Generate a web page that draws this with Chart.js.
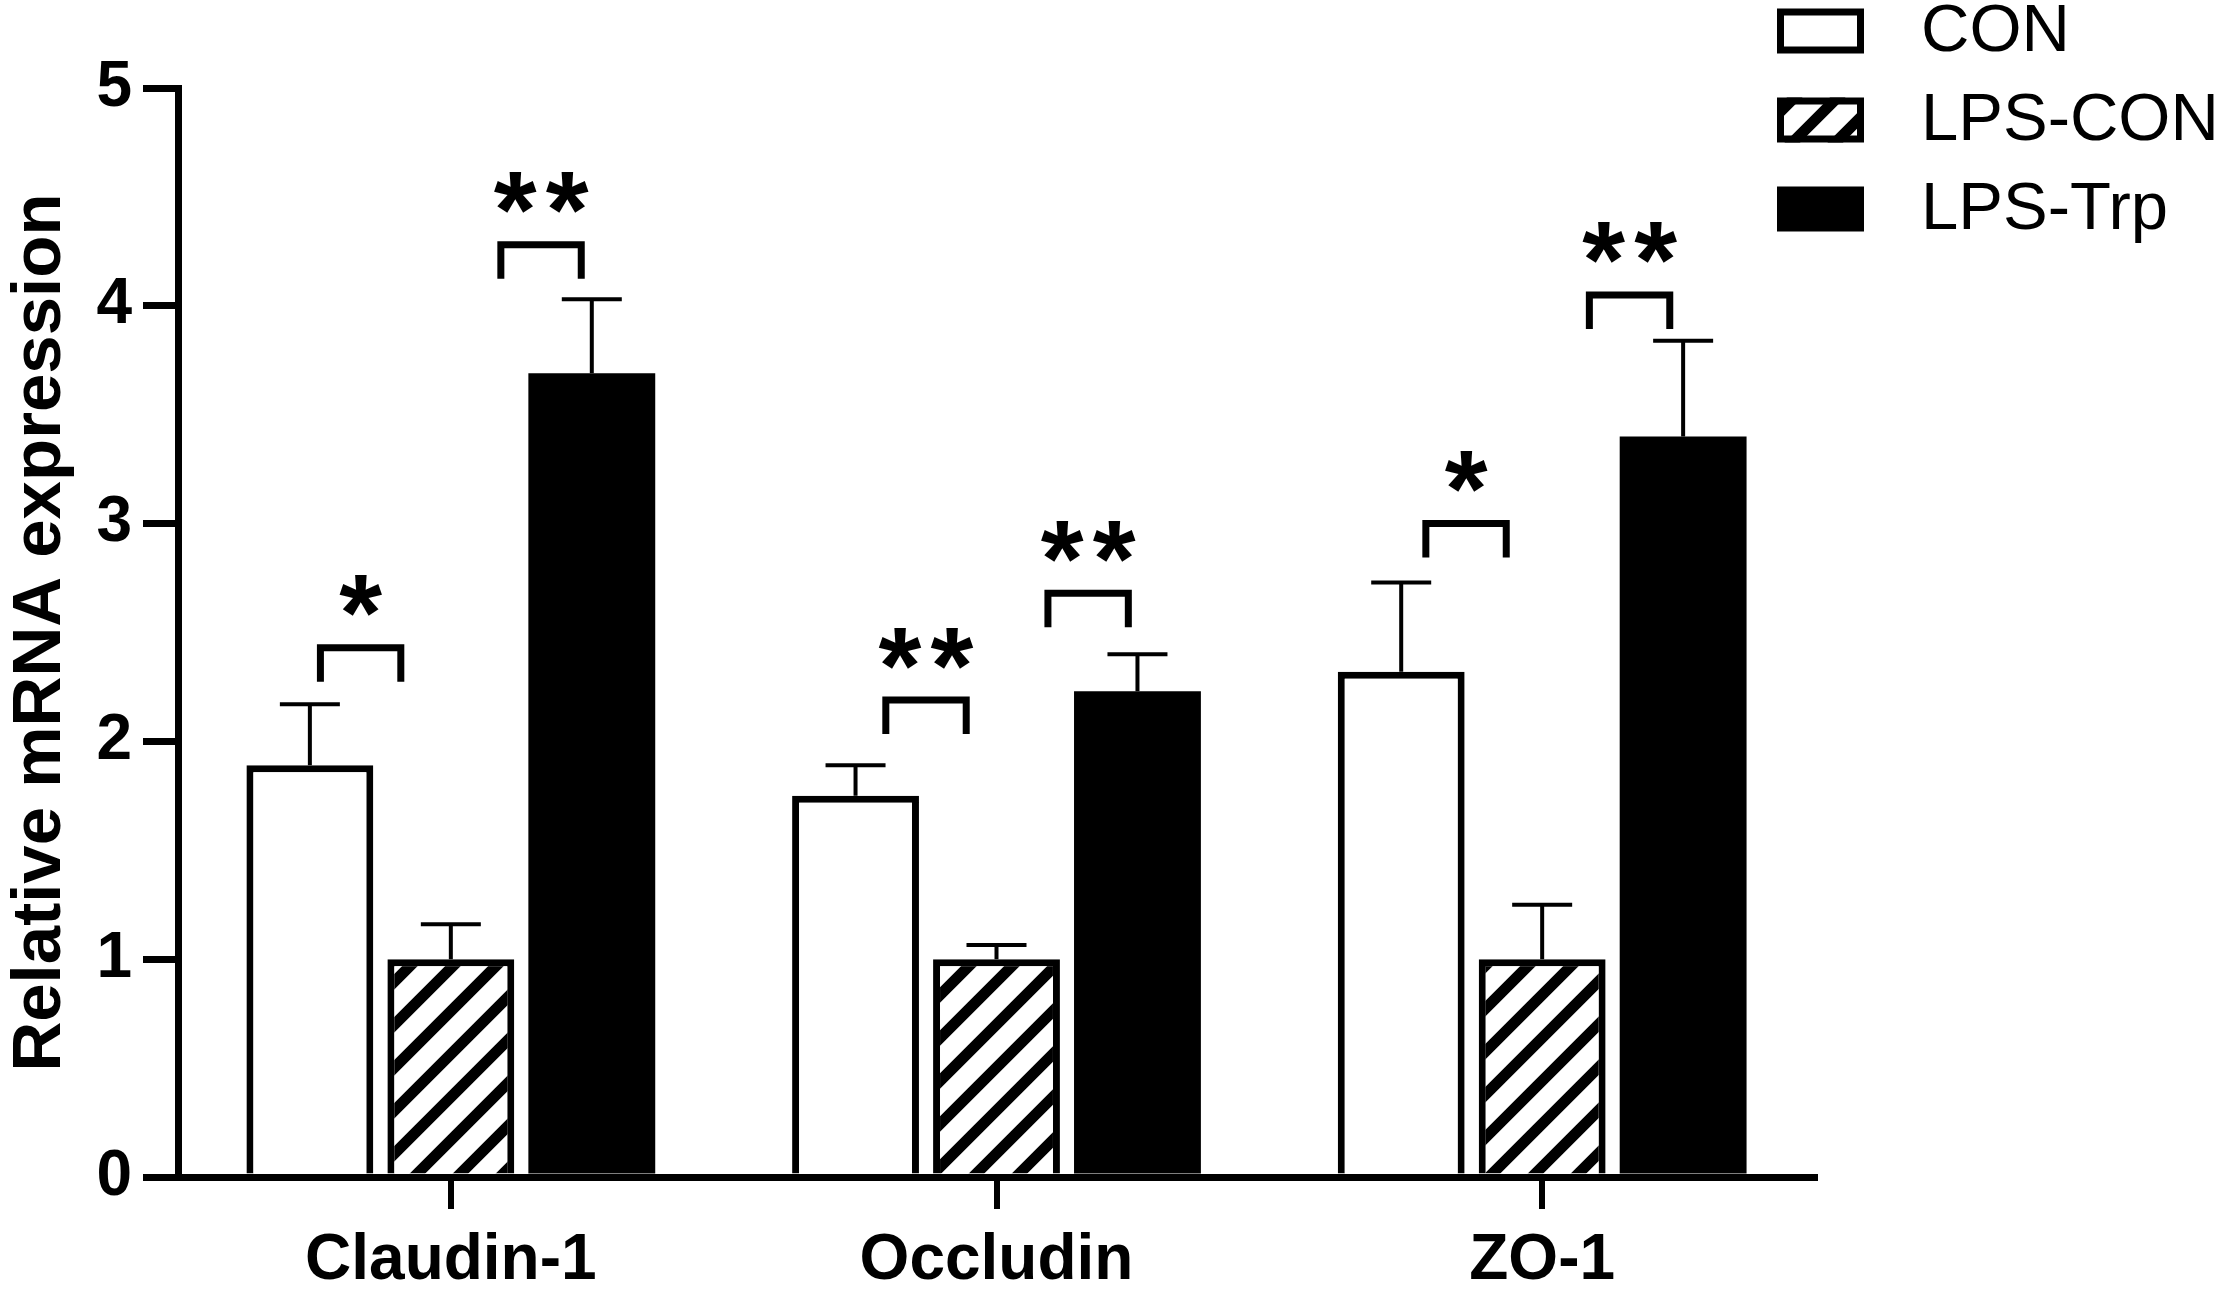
<!DOCTYPE html>
<html><head><meta charset="utf-8">
<script src="https://cdn.jsdelivr.net/npm/chart.js@4.4.1/dist/chart.umd.min.js"></script>
<style>html,body{margin:0;padding:0;background:#fff;overflow:hidden}#wrap{width:2228px;height:1290px}</style>
</head><body><div id="wrap"><canvas id="c" width="2228" height="1290"></canvas></div>
<script>
// ---- data ----
const categories = ['Claudin-1', 'Occludin', 'ZO-1'];
const seriesNames = ['CON', 'LPS-CON', 'LPS-Trp'];
const conValues = [1.89, 1.75, 2.32];
const lpsConValues = [1.00, 1.00, 1.00];
const lpsTrpValues = [3.69, 2.23, 3.40];
const conErr = [0.28, 0.14, 0.41];
const lpsConErr = [0.16, 0.065, 0.25];
const lpsTrpErr = [0.34, 0.17, 0.44];
const yTicks = [0, 1, 2, 3, 4, 5];
const yTitle = 'Relative mRNA expression';
// significance brackets
const sigCategory = [0, 0, 1, 1, 2, 2];
const sigFrom = [0, 1, 0, 1, 0, 1];
const sigTo = [1, 2, 1, 2, 1, 2];
const sigLevel = [2.43, 4.28, 2.19, 2.68, 3.00, 4.05];
const sigLabel = ['*', '**', '**', '**', '*', '**'];

const FONT = "'Liberation Sans', Arial, sans-serif";

function makeHatch() {
  const s = 43;
  const c = document.createElement('canvas');
  c.width = s; c.height = s;
  const g = c.getContext('2d');
  g.fillStyle = '#fff'; g.fillRect(0, 0, s, s);
  g.strokeStyle = '#000'; g.lineWidth = 11; g.lineCap = 'square';
  g.beginPath();
  g.moveTo(0, s); g.lineTo(s, 0);
  g.moveTo(-s / 2, s / 2); g.lineTo(s / 2, -s / 2);
  g.moveTo(s / 2, s * 1.5); g.lineTo(s * 1.5, s / 2);
  g.stroke();
  return g.createPattern(c, 'repeat');
}
const hatch = makeHatch();

const errorBars = {
  id: 'errorBars',
  afterDatasetsDraw(chart, args, opts) {
    const ctx = chart.ctx, y = chart.scales.y;
    ctx.save();
    ctx.strokeStyle = '#000';
    ctx.lineWidth = opts.lineWidth;
    chart.data.datasets.forEach((ds, i) => {
      const meta = chart.getDatasetMeta(i);
      meta.data.forEach((bar, j) => {
        const top = y.getPixelForValue(ds.data[j]);
        const e = y.getPixelForValue(ds.data[j] + ds.errors[j]);
        ctx.beginPath();
        ctx.moveTo(bar.x, top);
        ctx.lineTo(bar.x, e);
        ctx.moveTo(bar.x - opts.capWidth / 2, e);
        ctx.lineTo(bar.x + opts.capWidth / 2, e);
        ctx.stroke();
      });
    });
    ctx.restore();
  }
};

const sigBrackets = {
  id: 'sigBrackets',
  afterDatasetsDraw(chart, args, opts) {
    const ctx = chart.ctx, y = chart.scales.y;
    ctx.save();
    ctx.strokeStyle = '#000';
    ctx.fillStyle = '#000';
    ctx.lineWidth = opts.lineWidth;
    ctx.lineCap = 'butt';
    ctx.lineJoin = 'miter';
    ctx.font = 'bold ' + opts.starSize + 'px ' + FONT;
    const m = ctx.measureText('*');
    const starMid = (m.actualBoundingBoxAscent - m.actualBoundingBoxDescent) / 2;
    sigCategory.forEach((c, k) => {
      const a = chart.getDatasetMeta(sigFrom[k]).data[c];
      const b = chart.getDatasetMeta(sigTo[k]).data[c];
      const pitch = b.x - a.x;
      const cx = (a.x + b.x) / 2 + opts.shift[k] * pitch;
      const half = opts.widthFrac * pitch / 2;
      const top = y.getPixelForValue(sigLevel[k]);
      const hw = opts.lineWidth / 2;
      ctx.beginPath();
      ctx.moveTo(cx - half + hw, top + opts.legLength);
      ctx.lineTo(cx - half + hw, top);
      ctx.lineTo(cx + half - hw, top);
      ctx.lineTo(cx + half - hw, top + opts.legLength);
      ctx.stroke();
      const n = sigLabel[k].length;
      const sy = top - opts.starGap;
      ctx.textAlign = 'center';
      ctx.textBaseline = 'alphabetic';
      for (let t = 0; t < n; t++) {
        const sx = cx + (t - (n - 1) / 2) * opts.starSpacing;
        ctx.fillText('*', sx, sy + starMid);
      }
    });
    ctx.restore();
  }
};

const customLegend = {
  id: 'customLegend',
  afterDraw(chart, args, opts) {
    const ctx = chart.ctx;
    ctx.save();
    chart.data.datasets.forEach((ds, i) => {
      const cy = opts.top + i * opts.rowGap;
      const x = opts.left, w = opts.boxW, h = opts.boxH;
      ctx.fillStyle = ds.backgroundColor;
      ctx.fillRect(x, cy - h / 2, w, h);
      if (ds.borderWidth > 0) {
        ctx.strokeStyle = '#000';
        ctx.lineWidth = opts.border;
        ctx.strokeRect(x + opts.border / 2, cy - h / 2 + opts.border / 2, w - opts.border, h - opts.border);
      }
      ctx.fillStyle = '#000';
      ctx.font = opts.fontSize + 'px ' + FONT;
      ctx.textAlign = 'left';
      ctx.textBaseline = 'middle';
      ctx.fillText(ds.label, opts.textLeft, cy + 2);
    });
    ctx.restore();
  }
};

const datasets = [
  { label: seriesNames[0], data: conValues, errors: conErr, backgroundColor: '#ffffff', borderColor: '#000', borderWidth: 7 },
  { label: seriesNames[1], data: lpsConValues, errors: lpsConErr, backgroundColor: hatch, borderColor: '#000', borderWidth: 7 },
  { label: seriesNames[2], data: lpsTrpValues, errors: lpsTrpErr, backgroundColor: '#000000', borderColor: '#000', borderWidth: 0 }
];

new Chart(document.getElementById('c'), {
  type: 'bar',
  data: { labels: categories, datasets },
  plugins: [errorBars, sigBrackets, customLegend],
  options: {
    responsive: false,
    animation: false,
    devicePixelRatio: 1,
    layout: { padding: { top: 88, right: 413, left: 0, bottom: 0 } },
    datasets: { bar: { barPercentage: 0.9, categoryPercentage: 0.775, borderSkipped: 'start' } },
    plugins: {
      legend: { display: false },
      tooltip: { enabled: false },
      errorBars: { lineWidth: 4, capWidth: 60 },
      sigBrackets: { lineWidth: 7, legLength: 34, widthFrac: 0.62, starSize: 110, starGap: 52, starSpacing: 52,
        shift: [-0.14, 0.14, 0, 0.15, -0.04, 0.12] },
      customLegend: { left: 1777, top: 31, rowGap: 89, boxW: 87, boxH: 45, border: 7, textLeft: 1921, fontSize: 67 }
    },
    scales: {
      x: {
        offset: true,
        grid: { display: true, offset: false, drawOnChartArea: false, drawTicks: true, tickLength: 32, lineWidth: 6, color: '#000' },
        border: { display: true, width: 7, color: '#000' },
        ticks: { font: { family: FONT, size: 64, weight: 'bold' }, color: '#000', padding: 14, maxRotation: 0 },
        afterFit: s => { s.height = 113; }
      },
      y: {
        min: 0, max: 5,
        afterBuildTicks: s => { s.ticks = yTicks.map(v => ({ value: v })); },
        ticks: { font: { family: FONT, size: 64, weight: 'bold' }, color: '#000', padding: 11 },
        grid: { display: true, drawOnChartArea: false, drawTicks: true, tickLength: 35, lineWidth: 7, color: '#000' },
        border: { display: true, width: 7, color: '#000' },
        title: { display: true, text: yTitle, font: { family: FONT, size: 69, weight: 'bold' }, color: '#000', padding: 0 },
        afterFit: s => { s.width = 178; }
      }
    }
  }
});
</script></body></html>
